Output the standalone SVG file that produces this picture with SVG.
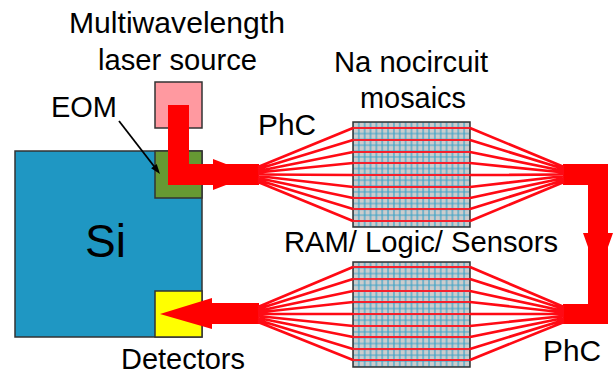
<svg xmlns="http://www.w3.org/2000/svg" width="616" height="375" viewBox="0 0 616 375">
<defs>
<pattern id="grid" x="355.9" y="119" width="5.85" height="5.83" patternUnits="userSpaceOnUse">
<rect width="5.85" height="5.83" fill="#cccccc"/>
<path d="M2.925 0V5.83M0 2.915H5.85" stroke="#3aa2c8" stroke-width="1.2" fill="none"/>
</pattern>
<pattern id="grid2" x="355.9" y="259" width="5.85" height="5.83" patternUnits="userSpaceOnUse">
<rect width="5.85" height="5.83" fill="#cccccc"/>
<path d="M2.925 0V5.83M0 2.915H5.85" stroke="#3aa2c8" stroke-width="1.2" fill="none"/>
</pattern>
</defs>
<style>
text{font-family:"Liberation Sans",Arial,sans-serif;fill:#000;font-size:30px}
.box{stroke:#333;stroke-width:1.5}
.ray{stroke:#ff0a14;stroke-width:2.7;fill:none}
.in{stroke:#f5202c;stroke-width:1.9;fill:none}
.thick{fill:#ff0000}
</style>
<g id="si"><rect class="box" x="15" y="151" width="187" height="186" fill="#1f97c3"/><text x="85" y="257" style="font-size:46px">Si</text></g>
<g id="eom"><rect class="box" x="155" y="151" width="47" height="47" fill="#669933"/><text x="51" y="117" textLength="66" lengthAdjust="spacingAndGlyphs">EOM</text></g>
<g id="laser"><rect class="box" x="155" y="82" width="47" height="46" fill="#ff99a0"/><text x="69" y="33" textLength="216" lengthAdjust="spacingAndGlyphs">Multiwavelength</text><text x="98" y="70" textLength="159" lengthAdjust="spacingAndGlyphs">laser source</text></g>
<g id="detectors"><rect class="box" x="155" y="291" width="47" height="46" fill="#ffff00"/><text x="121" y="368.5" textLength="124" lengthAdjust="spacingAndGlyphs">Detectors</text></g>
<g id="mosaic1"><rect class="box" x="353" y="122" width="117" height="105" fill="url(#grid)"/><text x="334" y="72" textLength="154" lengthAdjust="spacingAndGlyphs">Na nocircuit</text><text x="360" y="108" textLength="106" lengthAdjust="spacingAndGlyphs">mosaics</text></g>
<g id="mosaic2"><rect class="box" x="353" y="262" width="117" height="105" fill="url(#grid2)"/><text x="284" y="252" textLength="274" lengthAdjust="spacingAndGlyphs">RAM/ Logic/ Sensors</text></g>
<g id="phc-labels"><text x="258" y="135" textLength="58" lengthAdjust="spacingAndGlyphs">PhC</text><text x="543" y="361" textLength="58" lengthAdjust="spacingAndGlyphs">PhC</text></g>
<g id="connectors">
<path class="thick" d="M168 105H189V164H213V159L226 164H259V185H226L213 190V185H168Z"/>
<path class="thick" d="M563 164H608V233H613L608 247V324H563V304H588V247L583 233H588V185H563Z"/>
<path class="thick" d="M259 303V324H212V329L160 314L212 298V303Z"/>
<path class="in" d="M353 128H470M353 140H470M353 152H470M353 163H470M353 175H470M353 187H470M353 198H470M353 209H470M353 221H470"/>
<path class="in" d="M353 267H470M353 279H470M353 291H470M353 302H470M353 314H470M353 326H470M353 337H470M353 349H470M353 360H470"/>
<path class="ray" d="M258 167L353 128M258 169L353 140M258 171L353 152M258 172.500L353 163M258 174.500L353 175M258 176L353 187M258 178L353 198M258 180L353 209M258 182L353 221"/>
<path class="ray" d="M564 167L470 128M564 169L470 140M564 171L470 152M564 172.500L470 163M564 174.500L470 175M564 176L470 187M564 178L470 198M564 180L470 209M564 182L470 221"/>
<path class="ray" d="M564 307L470 267M564 309L470 279M564 311L470 291M564 312.500L470 302M564 314L470 314M564 316L470 326M564 318L470 337M564 320L470 349M564 322L470 360"/>
<path class="ray" d="M258 307L353 267M258 309L353 279M258 311L353 291M258 312.500L353 302M258 314L353 314M258 316L353 326M258 318L353 337M258 320L353 349M258 322L353 360"/>
<path d="M119 121L155 167.500" stroke="#000" stroke-width="1.800" fill="none"/>
<path d="M160 174L151.100 168.200L156.700 164Z" fill="#000"/>
</g>
</svg>
